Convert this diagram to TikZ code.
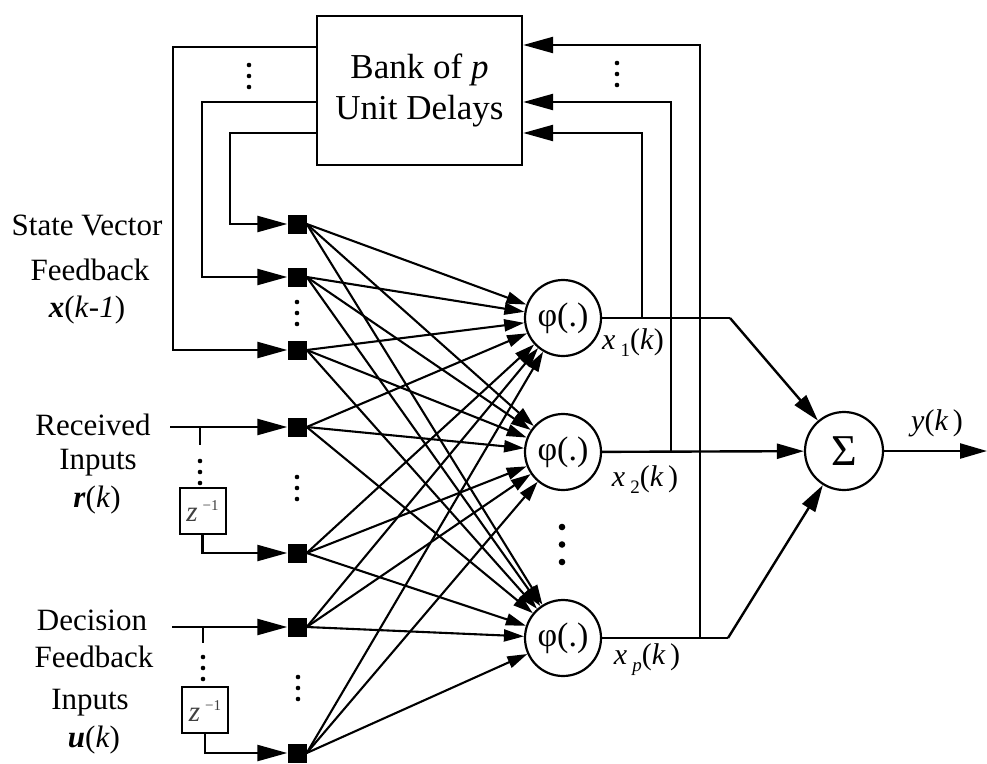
\documentclass[tikz,border=0pt]{standalone}
\usepackage{fontspec}
\setmainfont{Liberation Serif}
\usetikzlibrary{arrows.meta,calc}
\begin{document}
\begin{tikzpicture}[x=1pt,y=-1pt,
  wire/.style={line width=2.4pt},
  fanwire/.style={line width=2.1pt},
  bigtip/.style={-{Triangle[length=30pt,width=16pt]}},
  midtip/.style={-{Triangle[length=27pt,width=15pt]}},
  smalltip/.style={-{Triangle[length=20pt,width=12pt]}},
  sq/.style={fill=black, minimum size=19pt, inner sep=0pt},
  neuron/.style={circle, draw, line width=2.2pt, minimum size=76pt, inner sep=0pt,
    font=\fontsize{34}{34}\selectfont},
  zbox/.style={draw, line width=2pt, minimum size=46pt, inner sep=0pt},
  lbl/.style={font=\fontsize{31}{31}\selectfont, inner sep=0pt},
  outlbl/.style={font=\fontsize{30}{30}\selectfont, inner sep=0pt},
]
\useasboundingbox (0,0) rectangle (987,763);

% unit delay bank
\node[draw, line width=2.4pt, minimum width=205pt, minimum height=149pt, align=center,
  font=\fontsize{35}{41}\selectfont] (bank) at (419.5,90.5) {Bank of \textit{p}\\Unit Delays};

% input squares
\foreach \i/\y in {1/224, 2/277, 3/350, 4/427, 5/553, 6/627, 7/753}
  \node[sq] (s\i) at (297,\y) {};

% neurons and summation
\node[neuron] (p1) at (563,318) {φ(.)};
\node[neuron] (p2) at (563,452) {φ(.)};
\node[neuron] (p3) at (563,638) {φ(.)};
\node[circle, draw, line width=2.2pt, minimum size=78pt, inner sep=0pt,
  font=\fontsize{44}{44}\selectfont] (sig) at (844,451) {Σ};

% fully connected layer
\foreach \i in {1,...,7}
  \foreach \j in {1,2,3}
    \draw[fanwire, smalltip] (s\i.east) -- (p\j);

% state feedback from the delay bank
\coordinate (k1) at (173,47);
\coordinate (k2) at (202,102);
\coordinate (k3) at (230,133);
\draw[wire, bigtip] (bank.west |- k1) -- (k1) |- (s3);
\draw[wire, bigtip] (bank.west |- k2) -- (k2) |- (s2);
\draw[wire, bigtip] (bank.west |- k3) -- (k3) |- (s1);

% neuron outputs
\coordinate (j1) at (642,318);
\coordinate (j2) at (671,452);
\coordinate (j3) at (700,638);
\coordinate (h1) at (700,45);
\coordinate (h2) at (671,102);
\coordinate (h3) at (642,133);
\coordinate (b1) at (730,318);
\coordinate (b3) at (728,638);
\coordinate (yout) at (987,451);

\draw[wire] (p1) -- (b1);
\draw[wire, midtip] (b1) -- (sig);
\draw[wire, midtip] (p2) -- (sig);
\draw[wire] (p3) -- (b3);
\draw[wire, midtip] (b3) -- (sig);
\draw[wire, midtip] (sig) -- (yout);

\draw[wire, bigtip] (j3) |- (bank.east |- h1);
\draw[wire, bigtip] (j2) |- (bank.east |- h2);
\draw[wire, bigtip] (j1) |- (bank.east |- h3);

% received inputs with delay line
\coordinate (rin) at (170,427);
\coordinate (rt) at (200,427);
\coordinate (rt2) at (200,445);
\node[zbox] (z1) at (202.5,510.5) {};
\draw[wire, bigtip] (rin) -- (s4);
\draw[wire] (rt) -- (rt2);
\draw[wire, bigtip] (z1.south) |- (s5);

% decision feedback inputs with delay line
\coordinate (din) at (172,627);
\coordinate (dt) at (203,627);
\coordinate (dt2) at (203,643);
\node[zbox] (z2) at (205,710) {};
\draw[wire, bigtip] (din) -- (s6);
\draw[wire] (dt) -- (dt2);
\draw[wire, bigtip] (z2.south) |- (s7);

% delay element labels
\foreach \z in {z1, z2}
  \node[text=black!75, inner sep=0pt] at ([yshift=-1pt]\z) {\fontsize{29}{29}\selectfont\textit{z}\,\raisebox{11pt}{\fontsize{15}{15}\selectfont −1}};

% ellipsis dots
\foreach \x/\y in {249/65, 617/63, 297/302, 297/477, 298/677, 200/461, 203/657}
  \foreach \k in {0,11,22}
    \fill (\x,\y+\k) circle (2.3pt);
\foreach \k in {0,17.5,35}
  \fill (562,527+\k) circle (3.3pt);

% side labels
\node[lbl] at (87,225) {State Vector};
\node[lbl] at (90,270) {Feedback};
\node[lbl] at (87,310) {\textbf{\textit{x}}(\textit{k}-\textit{1})};
\node[lbl] at (93,425) {Received};
\node[lbl] at (98,463) {Inputs};
\node[lbl] at (97,500) {\textbf{\textit{r}}(\textit{k})};
\node[lbl] at (92,620) {Decision};
\node[lbl] at (94,657) {Feedback};
\node[lbl] at (90,703) {Inputs};
\node[lbl] at (94,740) {\textbf{\textit{u}}(\textit{k})};

% output labels
\node[outlbl] at (633,343) {\textit{x}\,\raisebox{-7pt}{\fontsize{19}{19}\selectfont 1}(\textit{k})};
\node[outlbl] at (645,480) {\textit{x}\,\raisebox{-7pt}{\fontsize{19}{19}\selectfont 2}(\textit{k\,})};
\node[outlbl] at (647,660) {\textit{x}\,\raisebox{-7pt}{\fontsize{19}{19}\selectfont\textit{p}}(\textit{k\,})};
\node[outlbl] at (937,423) {\textit{y}(\textit{k\,})};
\end{tikzpicture}
\end{document}
